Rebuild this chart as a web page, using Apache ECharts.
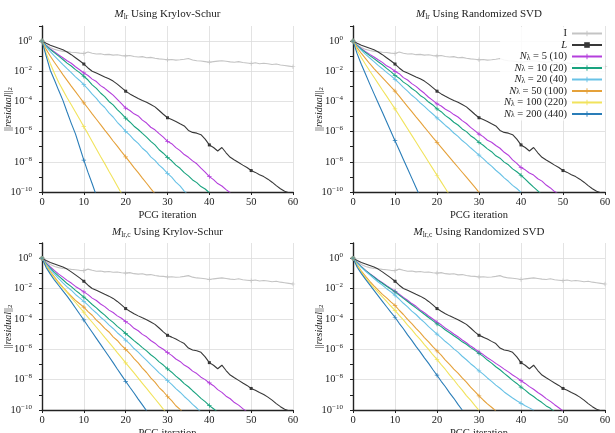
<!DOCTYPE html>
<html>
<head>
<meta charset="utf-8">
<script src="https://cdn.jsdelivr.net/npm/echarts@6/dist/echarts.min.js"></script>
<style>
html, body { margin: 0; padding: 0; background: #fff; }
#chart { width: 615px; height: 433px; }
</style>
</head>
<body>
<div id="chart"></div>
<script>
// log10(||residual||_2) per PCG iteration, index = iteration number
const resI = [0,-0.25,-0.42,-0.55,-0.62,-0.68,-0.70,-0.74,-0.76,-0.80,-0.82,-0.72,-0.80,-0.86,-0.84,-0.90,-0.88,-0.93,-0.91,-0.96,-0.98,-0.95,-1.02,-1.05,-1.03,-1.10,-1.08,-1.14,-1.18,-1.20,-1.24,-1.22,-1.26,-1.24,-1.20,-1.15,-1.25,-1.30,-1.32,-1.36,-1.40,-1.36,-1.33,-1.30,-1.34,-1.38,-1.40,-1.36,-1.42,-1.45,-1.48,-1.44,-1.50,-1.47,-1.50,-1.55,-1.52,-1.58,-1.62,-1.66,-1.70];
const resL = [0,-0.15,-0.28,-0.38,-0.48,-0.58,-0.72,-0.90,-1.10,-1.30,-1.52,-1.78,-2.00,-2.12,-2.25,-2.38,-2.50,-2.65,-2.85,-3.08,-3.32,-3.50,-3.66,-3.80,-3.93,-4.05,-4.20,-4.36,-4.60,-4.85,-5.08,-5.20,-5.33,-5.48,-5.62,-5.92,-6.05,-6.10,-6.20,-6.50,-6.88,-7.05,-7.28,-7.05,-7.40,-7.70,-7.88,-8.05,-8.22,-8.38,-8.58,-8.70,-8.85,-8.98,-9.15,-9.35,-9.58,-9.78,-9.95,-10.05,-10.2];

// M_lr, Krylov-Schur
const ksLr5 = [0,-0.30,-0.52,-0.72,-0.92,-1.10,-1.30,-1.47,-1.70,-1.90,-2.11,-2.28,-2.52,-2.68,-2.95,-3.13,-3.36,-3.58,-3.86,-4.14,-4.44,-4.60,-4.82,-4.96,-5.24,-5.43,-5.71,-5.88,-6.13,-6.36,-6.64,-6.80,-7.06,-7.26,-7.52,-7.70,-7.94,-8.13,-8.42,-8.68,-8.98,-9.18,-9.44,-9.60,-9.84,-10.05];
const ksLr10 = [0,-0.32,-0.56,-0.78,-1.00,-1.22,-1.46,-1.65,-1.89,-2.09,-2.33,-2.58,-2.90,-3.13,-3.44,-3.68,-4.00,-4.23,-4.54,-4.80,-5.11,-5.36,-5.64,-5.86,-6.12,-6.36,-6.64,-6.88,-7.20,-7.43,-7.71,-7.93,-8.22,-8.43,-8.72,-8.93,-9.20,-9.38,-9.64,-9.80,-10.05];
const ksLr20 = [0,-0.38,-0.70,-1.00,-1.28,-1.56,-1.83,-2.09,-2.37,-2.61,-2.89,-3.18,-3.52,-3.80,-4.14,-4.40,-4.76,-5.03,-5.38,-5.66,-5.98,-6.23,-6.54,-6.78,-7.10,-7.33,-7.67,-7.90,-8.22,-8.46,-8.76,-9.02,-9.34,-9.60,-9.94,-10.2];
const ksLr50 = [0,-0.55,-1.00,-1.42,-1.82,-2.22,-2.60,-2.98,-3.35,-3.72,-4.09,-4.45,-4.82,-5.18,-5.54,-5.90,-6.25,-6.62,-6.96,-7.32,-7.67,-8.02,-8.38,-8.72,-9.08,-9.42,-9.78,-10.12];
const ksLr100 = [0,-0.80,-1.50,-2.15,-2.75,-3.25,-3.75,-4.22,-4.70,-5.18,-5.67,-6.15,-6.65,-7.15,-7.65,-8.12,-8.62,-9.10,-9.60,-10.10];
const ksLr200 = [0,-1.00,-1.95,-2.60,-3.28,-3.93,-4.70,-5.45,-6.15,-7.02,-7.89,-8.70,-9.45,-10.25];

// M_lr, randomized SVD
const svdLr5 = [0,-0.28,-0.50,-0.70,-0.88,-1.05,-1.24,-1.41,-1.64,-1.79,-2.00,-2.16,-2.42,-2.58,-2.82,-3.00,-3.24,-3.46,-3.72,-3.93,-4.16,-4.30,-4.52,-4.66,-4.87,-5.03,-5.27,-5.46,-5.72,-5.93,-6.16,-6.33,-6.57,-6.70,-6.92,-7.10,-7.37,-7.56,-7.87,-8.10,-8.38,-8.53,-8.74,-8.88,-9.12,-9.28,-9.54,-9.73,-9.97,-10.15];
const svdLr10 = [0,-0.30,-0.54,-0.76,-0.96,-1.16,-1.37,-1.57,-1.81,-2.02,-2.27,-2.46,-2.72,-2.90,-3.14,-3.33,-3.60,-3.78,-4.04,-4.23,-4.49,-4.68,-4.94,-5.13,-5.38,-5.56,-5.82,-6.00,-6.27,-6.46,-6.71,-6.90,-7.14,-7.33,-7.60,-7.76,-8.02,-8.20,-8.47,-8.66,-8.89,-9.15,-9.42,-9.68,-9.92,-10.2];
const svdLr20 = [0,-0.34,-0.62,-0.88,-1.12,-1.36,-1.61,-1.83,-2.07,-2.29,-2.53,-2.79,-3.07,-3.31,-3.59,-3.81,-4.09,-4.33,-4.59,-4.83,-5.09,-5.33,-5.59,-5.81,-6.09,-6.31,-6.59,-6.81,-7.07,-7.31,-7.56,-7.79,-8.06,-8.29,-8.56,-8.79,-9.06,-9.29,-9.56,-9.77,-10.02];
const svdLr50 = [0,-0.45,-0.82,-1.16,-1.50,-1.82,-2.12,-2.42,-2.72,-3.02,-3.31,-3.65,-4.00,-4.34,-4.68,-5.02,-5.35,-5.70,-6.04,-6.38,-6.71,-7.04,-7.37,-7.70,-8.03,-8.36,-8.69,-9.02,-9.35,-9.68,-10.02];
const svdLr100 = [0,-0.60,-1.10,-1.55,-1.98,-2.40,-2.82,-3.24,-3.65,-4.07,-4.49,-4.93,-5.37,-5.81,-6.25,-6.69,-7.13,-7.57,-8.01,-8.45,-8.89,-9.33,-9.77,-10.21];
const svdLr200 = [0,-0.85,-1.55,-2.20,-2.85,-3.48,-4.10,-4.72,-5.35,-5.98,-6.60,-7.22,-7.84,-8.46,-9.08,-9.70,-10.32];

// M_lr,c, Krylov-Schur
const ksLrc5 = [0,-0.32,-0.58,-0.82,-1.05,-1.25,-1.46,-1.64,-1.86,-2.03,-2.22,-2.40,-2.63,-2.79,-3.02,-3.19,-3.42,-3.58,-3.80,-3.96,-4.18,-4.36,-4.62,-4.78,-5.02,-5.18,-5.42,-5.60,-5.84,-6.00,-6.22,-6.40,-6.64,-6.80,-7.04,-7.20,-7.44,-7.60,-7.84,-8.00,-8.22,-8.40,-8.66,-8.84,-9.09,-9.26,-9.51,-9.68,-9.91,-10.12];
const ksLrc10 = [0,-0.36,-0.66,-0.93,-1.18,-1.42,-1.67,-1.87,-2.12,-2.33,-2.56,-2.79,-3.05,-3.27,-3.53,-3.75,-4.01,-4.23,-4.49,-4.71,-4.96,-5.19,-5.43,-5.65,-5.89,-6.11,-6.36,-6.57,-6.83,-7.04,-7.29,-7.51,-7.77,-7.99,-8.26,-8.47,-8.73,-8.97,-9.23,-9.45,-9.71,-9.92,-10.15];
const ksLrc20 = [0,-0.40,-0.74,-1.05,-1.34,-1.62,-1.89,-2.11,-2.39,-2.61,-2.84,-3.09,-3.37,-3.61,-3.89,-4.11,-4.39,-4.63,-4.91,-5.14,-5.40,-5.65,-5.95,-6.19,-6.47,-6.73,-7.01,-7.27,-7.55,-7.79,-8.07,-8.31,-8.59,-8.83,-9.11,-9.35,-9.63,-9.87,-10.14];
const ksLrc50 = [0,-0.48,-0.88,-1.25,-1.60,-1.92,-2.22,-2.50,-2.78,-3.00,-3.22,-3.52,-3.76,-4.08,-4.32,-4.62,-4.86,-5.18,-5.42,-5.74,-6.00,-6.28,-6.62,-6.90,-7.24,-7.53,-7.88,-8.16,-8.52,-8.78,-9.11,-9.38,-9.72,-9.96,-10.28];
const ksLrc100 = [0,-0.52,-0.94,-1.32,-1.66,-1.96,-2.26,-2.60,-2.92,-3.24,-3.56,-3.90,-4.22,-4.55,-4.88,-5.22,-5.55,-5.88,-6.22,-6.55,-6.89,-7.22,-7.56,-7.90,-8.24,-8.58,-8.92,-9.26,-9.60,-9.94,-10.28];
const ksLrc200 = [0,-0.62,-1.05,-1.45,-1.80,-2.15,-2.50,-2.88,-3.28,-3.68,-4.07,-4.48,-4.88,-5.28,-5.68,-6.08,-6.48,-6.88,-7.30,-7.70,-8.11,-8.50,-8.88,-9.28,-9.66,-10.05];

// M_lr,c, randomized SVD
const svdLrc5 = [0,-0.30,-0.56,-0.80,-1.02,-1.22,-1.43,-1.61,-1.81,-1.99,-2.18,-2.37,-2.59,-2.77,-2.99,-3.17,-3.41,-3.59,-3.81,-4.01,-4.22,-4.39,-4.61,-4.79,-4.99,-5.17,-5.39,-5.57,-5.79,-5.97,-6.18,-6.35,-6.56,-6.73,-6.93,-7.11,-7.31,-7.49,-7.69,-7.87,-8.07,-8.25,-8.46,-8.63,-8.85,-9.03,-9.25,-9.43,-9.65,-9.85,-10.06];
const svdLrc10 = [0,-0.31,-0.58,-0.82,-1.04,-1.25,-1.47,-1.65,-1.85,-2.03,-2.22,-2.43,-2.65,-2.85,-3.07,-3.27,-3.49,-3.69,-3.91,-4.11,-4.33,-4.51,-4.73,-4.91,-5.11,-5.29,-5.51,-5.67,-5.89,-6.07,-6.27,-6.47,-6.71,-6.91,-7.15,-7.35,-7.59,-7.81,-8.05,-8.25,-8.49,-8.69,-8.93,-9.11,-9.33,-9.51,-9.73,-9.89,-10.12];
const svdLrc20 = [0,-0.33,-0.60,-0.86,-1.10,-1.34,-1.57,-1.77,-2.01,-2.21,-2.44,-2.69,-2.97,-3.21,-3.49,-3.71,-3.99,-4.23,-4.51,-4.75,-5.00,-5.23,-5.49,-5.71,-5.97,-6.19,-6.46,-6.69,-6.95,-7.17,-7.42,-7.64,-7.89,-8.11,-8.36,-8.57,-8.81,-9.01,-9.21,-9.39,-9.56,-9.72,-9.86,-10.02];
const svdLrc50 = [0,-0.46,-0.85,-1.20,-1.52,-1.82,-2.10,-2.38,-2.62,-2.88,-3.11,-3.43,-3.71,-4.03,-4.31,-4.63,-4.91,-5.23,-5.51,-5.83,-6.11,-6.39,-6.71,-6.99,-7.31,-7.57,-7.89,-8.17,-8.49,-8.77,-9.07,-9.34,-9.60,-9.82,-10.06];
const svdLrc100 = [0,-0.50,-0.92,-1.30,-1.64,-1.95,-2.25,-2.55,-2.85,-3.15,-3.44,-3.77,-4.07,-4.41,-4.71,-5.05,-5.35,-5.69,-6.01,-6.36,-6.67,-7.01,-7.33,-7.69,-8.01,-8.37,-8.69,-9.05,-9.35,-9.69,-10.02];
const svdLrc200 = [0,-0.60,-1.02,-1.40,-1.76,-2.12,-2.48,-2.84,-3.20,-3.55,-3.89,-4.29,-4.65,-5.05,-5.41,-5.81,-6.17,-6.57,-6.93,-7.33,-7.71,-8.11,-8.47,-8.87,-9.23,-9.63,-10.00];

const seriesNames = ['I', 'L', 'N_λ = 5 (10)', 'N_λ = 10 (20)', 'N_λ = 20 (40)', 'N_λ = 50 (100)', 'N_λ = 100 (220)', 'N_λ = 200 (440)'];
const colors = ['#c4c4c4', '#383838', '#b43fdc', '#19a37f', '#69c2e6', '#e5a13a', '#f1e35c', '#2a7db8'];
const panels = [
  { title: '{m|M}{sub|lr}{t| Using Krylov-Schur}', runs: [ksLr5, ksLr10, ksLr20, ksLr50, ksLr100, ksLr200] },
  { title: '{m|M}{sub|lr}{t| Using Randomized SVD}', runs: [svdLr5, svdLr10, svdLr20, svdLr50, svdLr100, svdLr200] },
  { title: '{m|M}{sub|lr,c}{t| Using Krylov-Schur}', runs: [ksLrc5, ksLrc10, ksLrc20, ksLrc50, ksLrc100, ksLrc200] },
  { title: '{m|M}{sub|lr,c}{t| Using Randomized SVD}', runs: [svdLrc5, svdLrc10, svdLrc20, svdLrc50, svdLrc100, svdLrc200] }
];

const FONT = 'Liberation Serif';
const INK = '#222';
// thin "+" marker
const PLUS = 'path://M4.2,0h1.6v4.2h4.2v1.6h-4.2v4.2h-1.6v-4.2h-4.2v-1.6h4.2z';

const grids = [
  { left: 42, top: 26, width: 251, height: 166 },
  { left: 353, top: 26, width: 252, height: 166 },
  { left: 42, top: 243, width: 251, height: 167 },
  { left: 353, top: 243, width: 252, height: 167 }
].map(g => Object.assign(g, { containLabel: false, outerBoundsMode: 'none' }));

// only even decades get a label
const sup = (v) => v % 2 === 0 ? '{b|10}{s|' + (v < 0 ? '\u2212' + (-v) : v) + '}' : '';

const xAxes = grids.map((g, i) => ({
  gridIndex: i, type: 'value', min: 0, max: 60, interval: 10,
  name: 'PCG iteration', nameLocation: 'middle', nameGap: 18, nameMoveOverlap: false,
  nameTextStyle: { fontFamily: FONT, fontSize: 10.5, color: INK },
  axisLine: { onZero: false, lineStyle: { color: INK, width: 1.4 } },
  axisTick: { inside: false, length: 3, lineStyle: { color: INK } },
  axisLabel: { fontFamily: FONT, fontSize: 10.5, color: INK, margin: 5 },
  splitLine: { show: true, lineStyle: { color: '#dcdcdc', width: 0.8 } }
}));

const yAxes = grids.map((g, i) => ({
  gridIndex: i, type: 'value', min: -10, max: 1, interval: 1,
  name: '{n|||}{i|residual}{n|||}{s|2}', nameLocation: 'middle', nameGap: 28, nameMoveOverlap: false,
  nameTextStyle: {
    fontFamily: FONT, fontSize: 10, color: INK,
    rich: {
      n: { fontFamily: FONT, fontSize: 10, color: INK },
      i: { fontFamily: FONT, fontSize: 10, fontStyle: 'italic', color: INK },
      s: { fontFamily: FONT, fontSize: 7, color: INK, padding: [5, 0, 0, 0] }
    }
  },
  axisLine: { show: true, onZero: false, lineStyle: { color: INK, width: 1.4 } },
  axisTick: { inside: false, length: 3, lineStyle: { color: INK } },
  axisLabel: {
    margin: 10, formatter: sup,
    rich: {
      b: { fontFamily: FONT, fontSize: 10.5, color: INK },
      s: { fontFamily: FONT, fontSize: 7, color: INK, padding: [0, 0, 6, 0] }
    }
  },
  splitLine: { show: true, lineStyle: { color: ['#dcdcdc', 'transparent'], width: 0.8 } }
}));

const titles = panels.map((p, i) => ({
  text: p.title,
  left: grids[i].left + grids[i].width / 2,
  top: i < 2 ? 8 : 226,
  textAlign: 'center',
  padding: 0,
  textStyle: {
    fontFamily: FONT, fontSize: 11, fontWeight: 'normal', color: INK,
    rich: {
      m: { fontFamily: FONT, fontSize: 11, fontStyle: 'italic', color: INK },
      sub: { fontFamily: FONT, fontSize: 7.5, color: INK, padding: [5, 0, 0, 0] },
      t: { fontFamily: FONT, fontSize: 11, color: INK }
    }
  }
}));

function line(name, arr, gi, color, symbol, size) {
  return {
    name: name, type: 'line', xAxisIndex: gi, yAxisIndex: gi,
    data: arr.map((v, k) => [k, v]),
    symbol: symbol,
    symbolSize: (v, p) => (p.dataIndex % 10 === 0 ? size : 0),
    showSymbol: true,
    lineStyle: { color: color, width: 1.1 },
    itemStyle: { color: color },
    clip: true,
    emphasis: { disabled: true }
  };
}

const series = [];
panels.forEach((p, gi) => {
  series.push(line(seriesNames[0], resI, gi, colors[0], PLUS, 4.5));
  series.push(line(seriesNames[1], resL, gi, colors[1], 'rect', 3));
  p.runs.forEach((arr, k) => {
    series.push(line(seriesNames[k + 2], arr, gi, colors[k + 2], PLUS, 4.5));
  });
});

function legendLabel(name) {
  if (name === 'I') return '{t|I}';
  if (name === 'L') return '{i|L}';
  return '{i|N}{sub|\u03bb}{t|' + name.slice(3) + '}';
}

const chart = echarts.init(document.getElementById('chart'), null, { renderer: 'canvas' });
chart.setOption({
  animation: false,
  backgroundColor: '#fff',
  title: titles,
  grid: grids,
  xAxis: xAxes,
  yAxis: yAxes,
  legend: {
    data: seriesNames,
    orient: 'vertical',
    align: 'right',
    right: 10,
    top: 27,
    itemWidth: 30,
    itemHeight: 7,
    itemGap: 0.5,
    padding: [1, 2, 1, 4],
    backgroundColor: 'rgba(255,255,255,0.85)',
    formatter: legendLabel,
    textStyle: {
      fontFamily: FONT, fontSize: 10.5, color: INK,
      rich: {
        t: { fontFamily: FONT, fontSize: 10.5, color: INK, lineHeight: 11, verticalAlign: 'middle' },
        i: { fontFamily: FONT, fontSize: 10.5, fontStyle: 'italic', color: INK, lineHeight: 11, verticalAlign: 'middle' },
        sub: { fontFamily: FONT, fontSize: 7.5, color: INK, lineHeight: 11, verticalAlign: 'bottom' }
      }
    }
  },
  series: series
});
</script>
</body>
</html>
